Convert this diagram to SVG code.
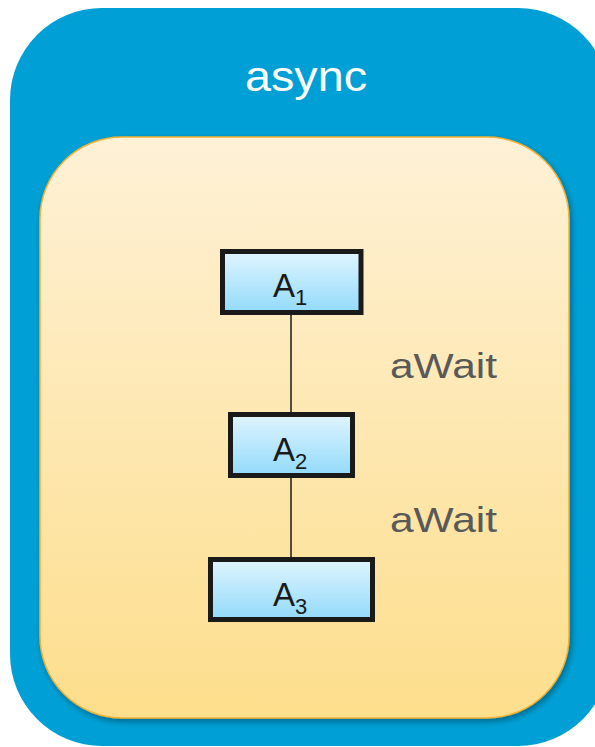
<svg xmlns="http://www.w3.org/2000/svg" width="595" height="747" viewBox="0 0 595 747">
<defs>
<linearGradient id="inner" x1="0" y1="0" x2="0" y2="1">
<stop offset="0" stop-color="#fef1d6"/>
<stop offset="1" stop-color="#fdde8c"/>
</linearGradient>
<linearGradient id="box" x1="0" y1="0" x2="0" y2="1">
<stop offset="0" stop-color="#e0f5fe"/>
<stop offset="1" stop-color="#92dafb"/>
</linearGradient>
<filter id="sh" x="-10%" y="-10%" width="120%" height="120%">
<feGaussianBlur in="SourceAlpha" stdDeviation="3"/>
<feOffset dx="2" dy="3"/>
<feComponentTransfer><feFuncA type="linear" slope="0.35"/></feComponentTransfer>
<feMerge><feMergeNode/><feMergeNode in="SourceGraphic"/></feMerge>
</filter>
<style>
.node rect{fill:url(#box);stroke:#1a1a1a;stroke-width:5}
.lbl{font-family:"Liberation Sans",Arial,sans-serif;font-size:33px;fill:#1a1a1a}
.sub{font-size:22px}
.wait{font-family:"Liberation Sans",Arial,sans-serif;font-size:35px;fill:#595959}
</style>
</defs>
<g id="async">
<rect x="10" y="8" width="600" height="738" rx="92" ry="92" fill="#00a0d6"/>
<text x="245" y="91" textLength="122" lengthAdjust="spacingAndGlyphs" font-family="Liberation Sans, Arial, sans-serif" font-size="42" fill="#ffffff">async</text>
</g>
<g id="body">
<rect x="40" y="137" width="529" height="581" rx="82" ry="82" fill="url(#inner)" stroke="#f5b133" stroke-width="1.5" filter="url(#sh)"/>
</g>
<g id="connectors" stroke="#1a1a1a" stroke-width="1.5">
<line x1="291" y1="313" x2="291" y2="413"/>
<line x1="291" y1="477" x2="291" y2="558"/>
</g>
<g id="A1" class="node">
<rect x="222.5" y="251.5" width="138.5" height="61"/>
<text class="lbl" x="273" y="297">A<tspan class="sub" dy="8">1</tspan></text>
</g>
<g id="A2" class="node">
<rect x="230.5" y="414.5" width="122" height="61"/>
<text class="lbl" x="273" y="461">A<tspan class="sub" dy="8">2</tspan></text>
</g>
<g id="A3" class="node">
<rect x="210.5" y="559.5" width="162" height="60"/>
<text class="lbl" x="273" y="606">A<tspan class="sub" dy="8">3</tspan></text>
</g>
<g id="labels">
<text class="wait" x="390" y="378" textLength="107" lengthAdjust="spacingAndGlyphs">aWait</text>
<text class="wait" x="390" y="532" textLength="107" lengthAdjust="spacingAndGlyphs">aWait</text>
</g>
</svg>
